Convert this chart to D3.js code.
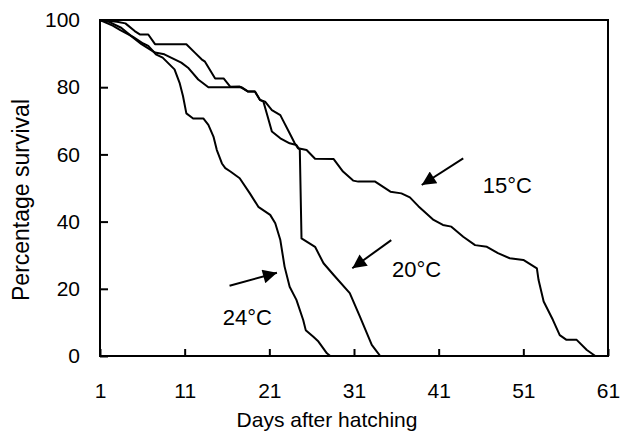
<!DOCTYPE html>
<html>
<head>
<meta charset="utf-8">
<script src="https://cdn.jsdelivr.net/npm/d3@7"></script>
<style>
  body { margin: 0; background: #fff; }
  svg { display: block; font-family: "Liberation Sans", Arial, sans-serif; }
</style>
</head>
<body>
<div id="chart"></div>
<script>
// survival data (day, % surviving)
const days15 = [1, 2, 3.5, 4.7, 5.9, 7.5, 8.6, 10.6, 11.4, 12.6, 13.8, 17.7, 18.5, 19.3, 19.9, 20.5, 21.3, 22.3, 22.6, 23.4, 24.0, 24.4, 25.4, 26.4, 28.6, 29.7, 30.9, 31.5, 33.5, 35.3, 36.6, 37.6, 38.6, 40.4, 41.5, 42.5, 43.9, 45.3, 46.7, 48.0, 49.4, 51.0, 52.6, 52.8, 53.4, 54.5, 55.3, 56.1, 57.3, 58.5, 59.5];
const surv15 = [100, 99.5, 97.7, 95.2, 92.8, 90.3, 89.8, 87.3, 85.8, 82.3, 80, 80, 78.7, 78.7, 76.2, 75.7, 73.2, 71.7, 70.2, 66.3, 63.3, 61.8, 61.3, 58.7, 58.6, 54.9, 52.2, 51.9, 51.9, 48.9, 48.4, 47.2, 44.6, 40.5, 39.0, 38.5, 35.5, 33.0, 32.5, 30.6, 29.1, 28.6, 26.1, 22.6, 16.2, 10.7, 6.2, 4.8, 4.8, 1.8, 0];

const days20 = [1, 3, 4, 5.1, 5.7, 6.7, 7.5, 11.2, 12.2, 13.0, 13.4, 14.6, 15.6, 16.4, 17.5, 18.5, 19.3, 19.9, 20.3, 20.7, 21.3, 22.3, 23.4, 24.2, 24.6, 24.8, 26.4, 27.4, 28.6, 30.5, 31.7, 33.1, 33.7, 34.1];
const surv20 = [100, 99.5, 99, 96.7, 95.7, 95.7, 92.8, 92.8, 90.3, 88.3, 87.6, 82.6, 82.6, 80.1, 80.2, 78.7, 78.7, 76.2, 75.7, 72.2, 66.8, 64.8, 63.3, 62.8, 61.3, 35.0, 32.5, 27.6, 24.1, 18.7, 11.7, 3.3, 1.3, 0];

const days24 = [1, 2.5, 3.4, 4.9, 6.1, 6.7, 7.6, 8.4, 9.8, 10.4, 10.8, 11.2, 12.0, 13.2, 13.8, 14.4, 14.8, 15.4, 15.8, 16.4, 17.5, 18.7, 19.7, 21.1, 21.7, 22.3, 22.8, 23.4, 24.2, 25.0, 25.3, 26.2, 26.8, 27.8, 28.2];
const surv24 = [100, 98.3, 97, 95, 93, 92.3, 89.8, 88.8, 85.3, 81.3, 77.4, 72.2, 70.7, 70.7, 68.8, 65.3, 61.3, 57.3, 55.9, 54.9, 52.9, 48.4, 44.4, 42.0, 39.5, 34.5, 26.6, 20.6, 16.7, 10.7, 7.7, 5.7, 4.3, 0.8, 0];

const xTicks = [1, 11, 21, 31, 41, 51, 61];
const yTicks = [0, 20, 40, 60, 80, 100];

// annotation labels with arrow (tail -> head) in data units
const labels = ["15°C", "20°C", "24°C"];
const labelPos = [[46.2, 48.5], [35.5, 23.5], [15.5, 9.2]];
const arrowTail = [[43.9, 58.8], [35.4, 34.5], [16.3, 20.9]];
const arrowHead = [[39.0, 50.9], [30.8, 26.1], [21.9, 24.8]];

const width = 623, height = 441;
const margin = { left: 100, right: 15, top: 20, bottom: 85 };

const svg = d3.select("#chart").append("svg")
  .attr("width", width)
  .attr("height", height);

const x = d3.scaleLinear().domain([1, 61]).range([margin.left, width - margin.right]);
const y = d3.scaleLinear().domain([0, 100]).range([height - margin.bottom, margin.top]);

svg.append("defs").append("marker")
  .attr("id", "head")
  .attr("viewBox", "0 0 10 10")
  .attr("refX", 10).attr("refY", 5)
  .attr("markerWidth", 9.5).attr("markerHeight", 7)
  .attr("markerUnits", "strokeWidth")
  .attr("orient", "auto")
  .append("path")
  .attr("d", "M0,0L10,5L0,10z")
  .attr("fill", "#000");

// axes
const xAxis = d3.axisBottom(x).tickValues(xTicks).tickSizeInner(-7).tickSizeOuter(0).tickPadding(27);
const yAxis = d3.axisLeft(y).tickValues(yTicks).tickSizeInner(-8).tickSizeOuter(0).tickPadding(20);

const gx = svg.append("g")
  .attr("transform", "translate(0," + y(0) + ")")
  .call(xAxis);
const gy = svg.append("g")
  .attr("transform", "translate(" + x(1) + ",0)")
  .call(yAxis);

[gx, gy].forEach(g => {
  g.select(".domain").remove();
  g.selectAll("line").attr("stroke", "#000").attr("stroke-width", 2);
  g.selectAll("text").attr("font-size", "21px").attr("fill", "#000")
    .attr("font-family", "Liberation Sans, Arial, sans-serif");
});

// frame
svg.append("rect")
  .attr("x", x(1)).attr("y", y(100))
  .attr("width", x(61) - x(1)).attr("height", y(0) - y(100))
  .attr("fill", "none").attr("stroke", "#000").attr("stroke-width", 2);

const line = d3.line().x(d => x(d[0])).y(d => y(d[1]));

const series = [
  d3.zip(days15, surv15),
  d3.zip(days20, surv20),
  d3.zip(days24, surv24)
];

svg.selectAll(".curve").data(series).enter()
  .append("path")
  .attr("class", "curve")
  .attr("d", line)
  .attr("fill", "none")
  .attr("stroke", "#000")
  .attr("stroke-width", 2)
  .attr("stroke-linejoin", "round");

labels.forEach((t, i) => {
  svg.append("line")
    .attr("x1", x(arrowTail[i][0])).attr("y1", y(arrowTail[i][1]))
    .attr("x2", x(arrowHead[i][0])).attr("y2", y(arrowHead[i][1]))
    .attr("stroke", "#000").attr("stroke-width", 2)
    .attr("marker-end", "url(#head)");
  svg.append("text")
    .attr("x", x(labelPos[i][0])).attr("y", y(labelPos[i][1]))
    .attr("font-size", "22px")
    .text(t);
});

// axis titles
svg.append("text")
  .attr("x", 327)
  .attr("y", 427)
  .attr("text-anchor", "middle")
  .attr("font-size", "21px")
  .text("Days after hatching");

svg.append("text")
  .attr("transform", "rotate(-90)")
  .attr("x", -200)
  .attr("y", 29)
  .attr("text-anchor", "middle")
  .attr("font-size", "23px")
  .text("Percentage survival");
</script>
</body>
</html>
